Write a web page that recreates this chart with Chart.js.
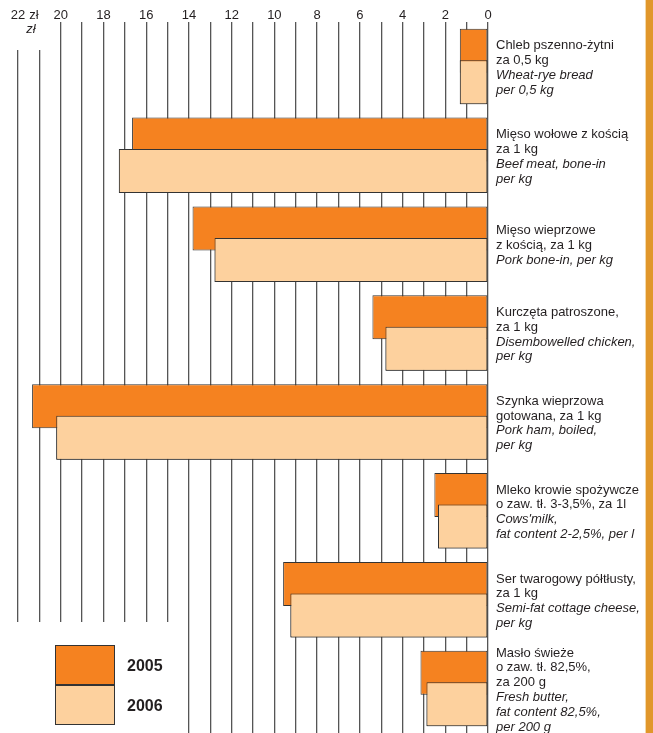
<!DOCTYPE html>
<html lang="pl">
<head>
<meta charset="utf-8">
<title>Ceny detaliczne 2005–2006</title>
<script src="https://cdn.jsdelivr.net/npm/chart.js@4/dist/chart.umd.min.js"></script>
<style>
  html, body { margin: 0; padding: 0; background: #fff; }
  #wrap { position: relative; width: 653px; height: 733px; overflow: hidden; }
  #pasek { position: absolute; left: 645px; top: 0; width: 8px; height: 733px;
           background: #E1972B; border-left: 1px solid #F5D9A8; box-sizing: border-box; }
</style>
</head>
<body>
<div id="wrap">
  <canvas id="wykres" width="653" height="733"></canvas>
  <div id="pasek"></div>
</div>
<script>
// Lata (serie)
const lata = ['2005', '2006'];

// Opisy kategorii: po polsku (zwykła czcionka) i po angielsku (kursywa)
const opisyPL = [
  ['Chleb pszenno-żytni', 'za 0,5 kg'],
  ['Mięso wołowe z kością', 'za 1 kg'],
  ['Mięso wieprzowe', 'z kością, za 1 kg'],
  ['Kurczęta patroszone,', 'za 1 kg'],
  ['Szynka wieprzowa', 'gotowana, za 1 kg'],
  ['Mleko krowie spożywcze', 'o zaw. tł. 3-3,5%, za 1l'],
  ['Ser twarogowy półtłusty,', 'za 1 kg'],
  ['Masło świeże', 'o zaw. tł. 82,5%,', 'za 200 g']
];
const opisyEN = [
  ['Wheat-rye bread', 'per 0,5 kg'],
  ['Beef meat, bone-in', 'per kg'],
  ['Pork bone-in, per kg'],
  ['Disembowelled chicken,', 'per kg'],
  ['Pork ham, boiled,', 'per kg'],
  ["Cows'milk,", 'fat content 2-2,5%, per l'],
  ['Semi-fat cottage cheese,', 'per kg'],
  ['Fresh butter,', 'fat content 82,5%,', 'per 200 g']
];

// Ceny w zł
const ceny2005 = [1.32, 16.66, 13.83, 5.41, 21.34, 2.51, 9.59, 3.16];
const ceny2006 = [1.32, 17.28, 12.80, 4.80, 20.21, 2.34, 9.25, 2.88];

// Oś cen: 0–22 zł, co 1 zł linia, co 2 zł opis
const osMin = 0, osMax = 22, krok = 1;

const KOLOR_2005 = '#F58220';
const KOLOR_2006 = '#FDD19E';
const OBRYS = '#333';
const TEKST = '#231F20';
const FONT = "'Liberation Sans', Arial, sans-serif";

// ===== Wtyczka: tła, ponowne rysowanie 2006 na wierzchu, opisy i legenda =====
const dodatki = {
  id: 'dodatki',
  beforeDatasetsDraw(chart) {
    const ctx = chart.ctx, x = chart.scales.x, a = chart.chartArea;
    ctx.save();
    ctx.fillStyle = '#fff';
    // krótsze linie siatki w lewym górnym rogu (miejsce na "zł")
    ctx.fillRect(0, a.top, x.getPixelForValue(20.5), 28);
    // miejsce na legendę
    ctx.fillRect(0, 622, x.getPixelForValue(14.5), a.bottom - 622);
    ctx.restore();
  },
  afterDatasetsDraw(chart) {
    // słupki 2006 mają leżeć na słupkach 2005
    chart.getDatasetMeta(1).controller.draw();
  },
  afterDraw(chart) {
    const ctx = chart.ctx, x = chart.scales.x, y = chart.scales.y;
    ctx.save();
    ctx.fillStyle = TEKST;
    ctx.textBaseline = 'middle';

    // "zł" przy opisie 22
    ctx.font = '13px ' + FONT;
    const x22 = x.getPixelForValue(22);
    const w22 = ctx.measureText('22').width;
    ctx.textAlign = 'left';
    ctx.fillText('zł', x22 + w22 / 2 + 4, 15);
    ctx.font = 'italic 13px ' + FONT;
    ctx.textAlign = 'center';
    ctx.fillText('zł', 31, 29.5);

    // opisy kategorii po prawej stronie
    const lh = 14.8;
    const lx = chart.chartArea.right + 8;
    ctx.textAlign = 'left';
    opisyPL.forEach((pl, i) => {
      const en = opisyEN[i];
      const n = pl.length + en.length;
      let yy = y.getPixelForValue(i) + 1.5 - (n - 1) * lh / 2;
      ctx.font = '13px ' + FONT;
      pl.forEach(t => { ctx.fillText(t, lx, yy); yy += lh; });
      ctx.font = 'italic 13px ' + FONT;
      en.forEach(t => { ctx.fillText(t, lx, yy); yy += lh; });
    });

    // legenda
    const kolory = chart.data.datasets.map(d => d.backgroundColor);
    ctx.strokeStyle = OBRYS;
    ctx.lineWidth = 1;
    lata.forEach((rok, i) => {
      const top = 645 + i * 40;
      ctx.fillStyle = kolory[i];
      ctx.fillRect(55.5, top + 0.5, 59, 39);
      ctx.strokeRect(55.5, top + 0.5, 59, 39);
      ctx.fillStyle = TEKST;
      ctx.font = 'bold 16px ' + FONT;
      ctx.textAlign = 'left';
      ctx.fillText(rok, 127, top + 22);
    });
    ctx.restore();
  }
};

new Chart(document.getElementById('wykres'), {
  type: 'bar',
  data: {
    labels: opisyPL.map(l => l.join(' ')),
    datasets: [
      {
        label: lata[0],
        data: ceny2005,
        backgroundColor: KOLOR_2005,
        borderColor: OBRYS,
        borderWidth: 1,
        borderSkipped: false,
        categoryPercentage: 0.707,
        barPercentage: 1.4
      },
      {
        label: lata[1],
        data: ceny2006,
        backgroundColor: KOLOR_2006,
        borderColor: OBRYS,
        borderWidth: 1,
        borderSkipped: false,
        categoryPercentage: 0.707,
        barPercentage: 1.4
      }
    ]
  },
  options: {
    indexAxis: 'y',
    responsive: false,
    animation: false,
    events: [],
    layout: { padding: { left: 18, right: 165, top: 0, bottom: 0 } },
    plugins: { legend: { display: false }, tooltip: { enabled: false } },
    scales: {
      x: {
        position: 'top',
        reverse: true,
        min: osMin,
        max: osMax,
        afterFit: s => { s.height = 22; },
        border: { display: false },
        grid: { color: '#555', lineWidth: 1.3, drawTicks: false },
        ticks: {
          stepSize: krok,
          autoSkip: false,
          maxRotation: 0,
          padding: -1,
          color: TEKST,
          font: { family: FONT, size: 13 },
          callback: v => (v % 2 === 0 ? String(v) : '')
        }
      },
      y: { display: false, offset: true }
    }
  },
  plugins: [dodatki]
});
</script>
</body>
</html>
